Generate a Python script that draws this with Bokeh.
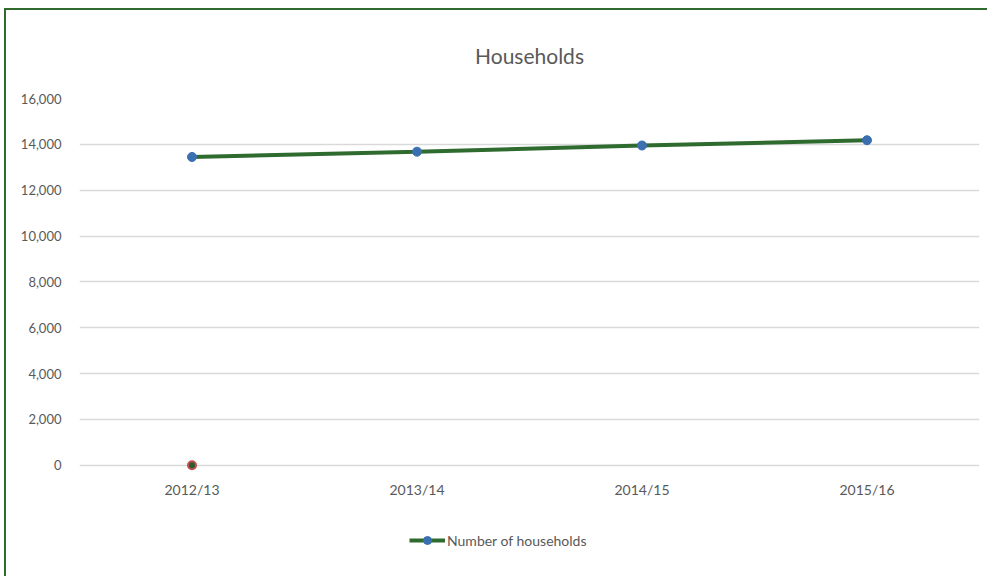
from bokeh.plotting import figure
from bokeh.layouts import column
from bokeh.models import Legend, LegendItem, Range1d, NumeralTickFormatter, FixedTicker
from bokeh.embed import file_html
from bokeh.resources import INLINE

categories = ["2012/13", "2013/14", "2014/15", "2015/16"]
households = [13450, 13680, 13950, 14180]
zero_cat = ["2012/13"]
zero_val = [0]
y_ticks = [0, 2000, 4000, 6000, 8000, 10000, 12000, 14000, 16000]

FONT = "Lato"
TXT = "#595959"
GREEN = "#2f6b2f"
BLUE = "#3a6fb0"

p = figure(x_range=categories, width=983, height=510, output_backend="svg",
           toolbar_location=None, min_border_left=73, min_border_right=10,
           min_border_top=87, min_border_bottom=46)
p.y_range = Range1d(-400, 16000)
p.outline_line_color = None

p.title.text = "Households"
p.title.align = "center"
p.title.text_font = FONT
p.title.text_font_size = "21px"
p.title.text_font_style = "normal"
p.title.text_color = TXT
p.title.standoff = 61

for ax in (p.xaxis[0], p.yaxis[0]):
    ax.axis_line_color = None
    ax.major_tick_line_color = None
    ax.minor_tick_line_color = None
    ax.major_label_text_font = FONT
    ax.major_label_text_font_size = "13px"
    ax.major_label_text_color = TXT
p.yaxis.ticker = FixedTicker(ticks=y_ticks)
p.yaxis.formatter = NumeralTickFormatter(format="0,0")
p.yaxis.major_label_standoff = 12
p.xaxis.major_label_standoff = 0
p.xaxis.major_label_text_font_size = "14px"
p.xgrid.grid_line_color = None
p.ygrid.grid_line_color = "#d9d9d9"
p.ygrid.grid_line_width = 1.5

p.line(categories, households, line_color=GREEN, line_width=4)
p.scatter(categories, households, marker="circle", size=9,
          fill_color=BLUE, line_color=BLUE)
p.scatter(zero_cat, zero_val, marker="circle", size=8, fill_color="#2f5a2f",
          line_color="#c0504d", line_width=2)

# legend strip (its own small figure; the series drawn there lie outside its range)
q = figure(x_range=categories, y_range=Range1d(0, 1), width=983, height=56,
           output_backend="svg", toolbar_location=None,
           min_border_left=0, min_border_right=0, min_border_top=0, min_border_bottom=0)
q.axis.visible = False
q.grid.grid_line_color = None
q.outline_line_color = None
lq = q.line(categories, households, line_color=GREEN, line_width=4)
mq = q.scatter(categories, households, marker="circle", size=7,
               fill_color=BLUE, line_color=BLUE)
legend = Legend(items=[LegendItem(label="Number of households", renderers=[lq, mq])],
                orientation="horizontal", location=(330, 26),
                label_text_font=FONT, label_text_font_size="14px",
                label_text_color=TXT, border_line_color=None,
                background_fill_alpha=0,
                glyph_width=36, label_standoff=2, margin=0, padding=0)
q.add_layout(legend, "center")

layout = column(p, q, spacing=0)
layout.styles = {"margin-left": "4px", "margin-top": "8px",
                 "border-top": "2px solid " + GREEN, "border-left": "2px solid " + GREEN}

open("out.html", "w").write(file_html(layout, INLINE))
